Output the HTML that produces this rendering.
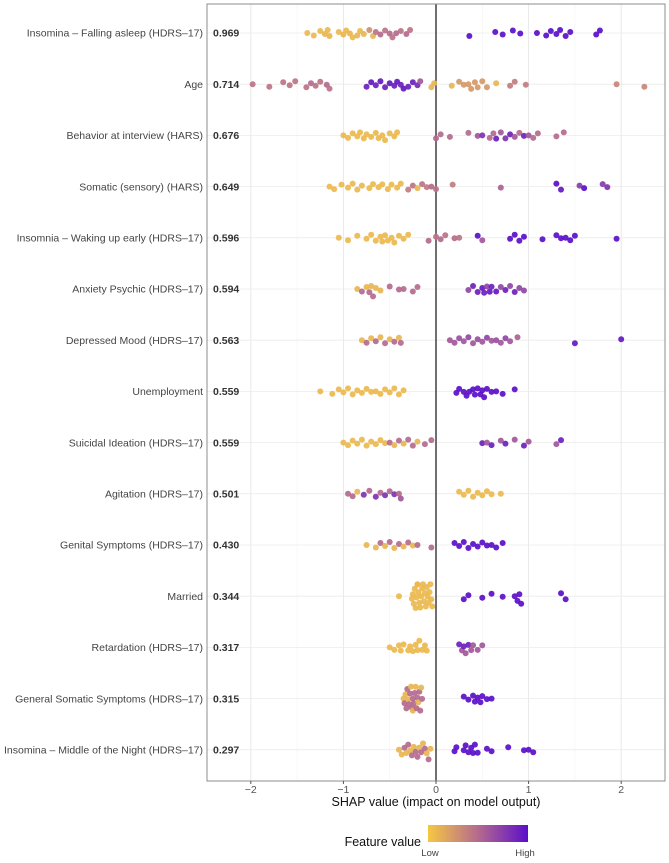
<!DOCTYPE html>
<html><head><meta charset="utf-8"><style>
body{margin:0;background:#fff;font-family:"Liberation Sans",sans-serif}
svg{display:block}
</style></head><body>
<svg id="chart" width="669" height="863"></svg>
<script>
const features=["Insomina – Falling asleep (HDRS–17)","Age","Behavior at interview (HARS)","Somatic (sensory) (HARS)","Insomnia – Waking up early (HDRS–17)","Anxiety Psychic (HDRS–17)","Depressed Mood (HDRS–17)","Unemployment","Suicidal Ideation (HDRS–17)","Agitation (HDRS–17)","Genital Symptoms (HDRS–17)","Married","Retardation (HDRS–17)","General Somatic Symptoms (HDRS–17)","Insomina – Middle of the Night (HDRS–17)"];
const importance=["0.969","0.714","0.676","0.649","0.596","0.594","0.563","0.559","0.559","0.501","0.430","0.344","0.317","0.315","0.297"];
const xTicks=[-2,-1,0,1,2];
const shapValues=[
[-1.39,-1.32,-1.25,-1.2,-1.17,-1.15,-1.05,-1.0,-0.97,-0.93,-0.9,-0.85,-0.82,-0.78,-0.72,-0.68,-0.65,-0.6,-0.55,-0.5,-0.47,-0.43,-0.38,-0.32,-0.28,0.36,0.64,0.72,0.83,0.91,1.09,1.19,1.24,1.3,1.34,1.4,1.45,1.73,1.77],
[-1.98,-1.8,-1.65,-1.58,-1.52,-1.4,-1.35,-1.3,-1.25,-1.18,-1.15,-0.75,-0.7,-0.65,-0.6,-0.55,-0.5,-0.45,-0.42,-0.38,-0.35,-0.3,-0.25,-0.2,-0.17,-0.05,-0.02,0.17,0.25,0.3,0.35,0.38,0.42,0.45,0.5,0.55,0.65,0.8,0.85,0.97,1.95,2.25],
[-1.0,-0.95,-0.9,-0.85,-0.82,-0.78,-0.75,-0.7,-0.65,-0.62,-0.58,-0.55,-0.5,-0.45,-0.42,0.0,0.05,0.15,0.35,0.45,0.5,0.58,0.62,0.65,0.7,0.75,0.8,0.85,0.9,0.95,1.0,1.05,1.1,1.3,1.38],
[-1.15,-1.1,-1.02,-0.95,-0.9,-0.85,-0.8,-0.72,-0.68,-0.62,-0.58,-0.52,-0.48,-0.42,-0.38,-0.3,-0.25,-0.2,-0.15,-0.1,-0.05,0.0,0.18,0.7,1.3,1.35,1.55,1.6,1.8,1.85],
[-1.05,-0.95,-0.85,-0.75,-0.7,-0.65,-0.6,-0.58,-0.55,-0.52,-0.48,-0.45,-0.4,-0.35,-0.3,-0.08,0.0,0.05,0.1,0.2,0.25,0.5,0.45,0.8,0.85,0.9,0.95,1.15,1.3,1.35,1.4,1.45,1.5,1.95],
[-0.85,-0.8,-0.75,-0.72,-0.7,-0.68,-0.65,-0.6,-0.5,-0.4,-0.35,-0.25,-0.2,0.35,0.4,0.45,0.5,0.52,0.55,0.58,0.6,0.65,0.7,0.75,0.8,0.85,0.9,0.95],
[-0.8,-0.75,-0.7,-0.65,-0.6,-0.55,-0.5,-0.45,-0.4,-0.38,0.15,0.2,0.25,0.3,0.35,0.4,0.45,0.5,0.55,0.6,0.65,0.7,0.75,0.8,0.88,1.5,2.0],
[-1.25,-1.12,-1.05,-1.0,-0.95,-0.9,-0.85,-0.8,-0.75,-0.7,-0.65,-0.6,-0.55,-0.5,-0.45,-0.4,-0.35,0.22,0.25,0.3,0.33,0.36,0.4,0.42,0.45,0.48,0.5,0.52,0.55,0.6,0.65,0.72,0.85],
[-1.0,-0.95,-0.9,-0.85,-0.8,-0.75,-0.7,-0.65,-0.6,-0.55,-0.5,-0.45,-0.4,-0.35,-0.3,-0.25,-0.2,-0.12,-0.05,0.5,0.55,0.6,0.7,0.75,0.85,0.95,1.0,1.3,1.35],
[-0.95,-0.9,-0.85,-0.78,-0.72,-0.65,-0.6,-0.55,-0.5,-0.45,-0.4,-0.38,0.25,0.3,0.35,0.4,0.45,0.5,0.55,0.6,0.7],
[-0.75,-0.65,-0.6,-0.55,-0.5,-0.45,-0.4,-0.35,-0.3,-0.25,-0.2,-0.05,0.2,0.25,0.3,0.35,0.4,0.45,0.5,0.55,0.6,0.65,0.72],
[-0.4,-0.26,-0.25,-0.24,-0.23,-0.22,-0.21,-0.2,-0.2,-0.19,-0.18,-0.17,-0.16,-0.15,-0.14,-0.13,-0.12,-0.11,-0.1,-0.09,-0.08,-0.07,-0.06,-0.05,-0.04,0.3,0.35,0.5,0.6,0.72,0.85,0.88,0.9,0.92,1.35,1.4],
[-0.5,-0.45,-0.4,-0.38,-0.35,-0.3,-0.28,-0.25,-0.22,-0.2,-0.18,-0.15,-0.12,-0.1,0.25,0.28,0.3,0.32,0.35,0.38,0.4,0.45,0.5],
[-0.35,-0.34,-0.33,-0.32,-0.31,-0.3,-0.29,-0.28,-0.27,-0.26,-0.25,-0.25,-0.24,-0.23,-0.22,-0.21,-0.2,-0.19,-0.18,-0.17,-0.16,-0.15,0.3,0.35,0.4,0.42,0.45,0.48,0.5,0.55,0.6],
[-0.4,-0.37,-0.34,-0.32,-0.3,-0.28,-0.26,-0.24,-0.22,-0.2,-0.18,-0.16,-0.14,-0.12,-0.1,-0.08,-0.06,0.2,0.22,0.3,0.32,0.35,0.38,0.4,0.42,0.45,0.55,0.6,0.78,0.95,1.0,1.05]
];
const featureValues=[
[.08,.08,.08,.1,.08,.1,.08,.1,.08,.1,.08,.1,.08,.1,.3,.1,.45,.5,.45,.5,.45,.5,.45,.5,.45,1,1,1,1,1,1,1,1,1,1,1,1,1,1],
[.45,.45,.45,.45,.45,.45,.5,.45,.45,.5,.45,.9,.95,.9,.95,.9,.95,.9,.95,.9,.95,.9,.9,.85,.6,.1,.1,.1,.25,.25,.25,.25,.25,.25,.25,.25,.1,.4,.4,.4,.35,.35],
[.08,.08,.08,.08,.08,.08,.08,.08,.08,.08,.08,.08,.08,.08,.08,.5,.5,.5,.5,.6,.8,.5,.5,.9,.6,.8,.9,.6,.5,.9,.6,.5,.5,.5,.5],
[.08,.08,.08,.08,.08,.08,.08,.08,.08,.08,.08,.08,.08,.08,.08,.4,.45,.1,.45,.4,.5,.45,.4,.55,1,.95,.75,1,.75,.8],
[.08,.08,.08,.08,.08,.08,.08,.08,.08,.08,.08,.08,.08,.08,.08,.5,.45,.5,.45,.5,.45,.6,1,1,1,1,1,1,1,1,1,1,1,1],
[.1,.5,.1,.5,.1,.5,.1,.1,.5,.5,.5,.5,.5,.7,.9,.9,.95,.9,.7,.95,.9,.95,.7,.9,.7,.9,.7,.7],
[.1,.5,.1,.5,.1,.5,.1,.5,.1,.5,.6,.6,.65,.6,.7,.6,.65,.6,.7,.6,.65,.6,.7,.6,.55,.95,.95],
[.08,.08,.08,.08,.08,.08,.08,.08,.08,.08,.08,.08,.08,.08,.08,.08,.08,1,1,1,1,1,1,1,1,1,1,1,1,1,1,1,1],
[.08,.08,.08,.08,.08,.08,.08,.08,.08,.08,.5,.1,.5,.1,.5,.5,.1,.5,.5,.9,.6,.9,.6,.9,.6,.9,.6,.6,.9],
[.5,.5,.1,.8,.5,.8,.5,.8,.5,.8,.5,.6,.08,.08,.08,.08,.08,.08,.08,.08,.08],
[.1,.1,.5,.1,.5,.1,.5,.1,.5,.1,.5,.5,1,1,1,1,1,1,1,1,1,1,1],
[.08,.08,.08,.08,.08,.08,.08,.08,.08,.08,.08,.08,.08,.08,.08,.08,.08,.08,.08,.08,.08,.08,.08,.08,.08,1,1,1,1,1,1,1,1,1,1,1],
[.08,.08,.08,.08,.08,.08,.08,.08,.08,.08,.08,.08,.08,.08,.9,.6,.9,.6,.9,.6,.6,.6,.6],
[.1,.5,.1,.5,.5,.1,.5,.5,.1,.5,.5,.1,.5,.5,.1,.5,.5,.1,.5,.5,.1,.5,1,1,1,1,1,1,1,1,1],
[.1,.1,.5,.1,.5,.1,.5,.1,.5,.5,.1,.5,.1,.5,.1,.5,.1,1,1,1,1,1,1,1,1,1,1,1,1,1,1,1]
];
const NS="http://www.w3.org/2000/svg";
const svg=document.getElementById('chart');
const P={l:207,r:665,t:4,b:781};
const x0=436,ux=92.6;
const xScale=v=>x0+v*ux;
const yScale=i=>33+i*51.2;
const jitterPattern=[0,2.5,-2,1,-3,3,-1,1.5,-2.5,0.5];
function mk(tag,attrs,parent){const e=document.createElementNS(NS,tag);for(const k in attrs)e.setAttribute(k,attrs[k]);(parent||svg).appendChild(e);return e;}
function lerp(a,b,t){return Math.round(a+(b-a)*t);}
function color(f){const s=[[245,200,66],[180,106,142],[91,15,201]];let a,b,t;if(f<0.5){a=s[0];b=s[1];t=f/0.5;}else{a=s[1];b=s[2];t=(f-0.5)/0.5;}return `rgb(${lerp(a[0],b[0],t)},${lerp(a[1],b[1],t)},${lerp(a[2],b[2],t)})`;}
const grid=mk('g',{});


for(let v=-2.5;v<=2.5;v+=0.5){const x=xScale(v);if(x<P.l||x>P.r)continue;mk('line',{x1:x,x2:x,y1:P.t,y2:P.b,stroke:Number.isInteger(v)?'#e6e6e6':'#f2f2f2','stroke-width':Number.isInteger(v)?0.9:0.6},grid);}
features.forEach((f,i)=>{mk('line',{x1:P.l,x2:P.r,y1:yScale(i),y2:yScale(i),stroke:'#ebebeb','stroke-width':0.8},grid);});
const zl=mk('line',{x1:xScale(0),x2:xScale(0),y1:P.t,y2:P.b,stroke:'#111','stroke-width':1.2});


const r=3;
features.forEach((f,i)=>{
  const g=mk('g',{});
  
  
  const pts=shapValues[i].map((v,j)=>({x:xScale(v),f:featureValues[i][j],j:j})).sort((a,b)=>a.x-b.x);
  const placed=[];
  pts.forEach(p=>{
    const base=jitterPattern[p.j%jitterPattern.length];
    let off=base;
    for(let k=0;k<20;k++){
      const o=base+(k%2?1:-1)*Math.ceil(k/2)*2.2;
      if(!placed.some(q=>Math.hypot(q.x-p.x,q.o-o)<r*1.45)){off=o;break;}
      off=o;
    }
    off=Math.max(-12,Math.min(12,off));
    placed.push({x:p.x,o:off});
    const c=mk('circle',{cx:p.x,cy:yScale(i)+off,r:r,fill:color(p.f),'fill-opacity':0.92},g);
    
    
  });
  const lab=mk('text',{x:203,y:yScale(i)+3.7,'text-anchor':'end','font-size':10.5,fill:'#444'});
  lab.textContent=f;
  
  
  const val=mk('text',{x:213,y:yScale(i)+3.7,'font-size':10.5,'font-weight':'bold',fill:'#333'});
  val.textContent=importance[i];
  
  
});
const pb=mk('rect',{x:P.l,y:P.t,width:P.r-P.l,height:P.b-P.t,fill:'none',stroke:'#8c8c8c','stroke-width':1});


xTicks.forEach(t=>{
  mk('line',{x1:xScale(t),x2:xScale(t),y1:P.b,y2:P.b+3,stroke:'#555'});
  const tx=mk('text',{x:xScale(t),y:793,'text-anchor':'middle','font-size':10.5,fill:'#555'});
  tx.textContent=t<0?'−'+(-t):String(t);
  
  
});
const xt=mk('text',{x:xScale(0),y:806,'text-anchor':'middle','font-size':12.5,fill:'#111'});
xt.textContent='SHAP value (impact on model output)';


const defs=mk('defs',{});
const lg=mk('linearGradient',{id:'grad',x1:0,x2:1,y1:0,y2:0},defs);
[0,0.25,0.5,0.75,1].forEach(s=>mk('stop',{offset:s,'stop-color':color(s)},lg));
const leg=mk('g',{});


mk('rect',{x:428,y:825,width:100,height:17,fill:'url(#grad)'},leg);
const lt=mk('text',{x:421,y:846,'text-anchor':'end','font-size':12.5,fill:'#111'},leg);lt.textContent='Feature value';


const lo=mk('text',{x:430,y:856,'text-anchor':'middle','font-size':9.5,fill:'#444'},leg);lo.textContent='Low';


const hi=mk('text',{x:525,y:856,'text-anchor':'middle','font-size':9.5,fill:'#444'},leg);hi.textContent='High';


</script>
</body></html>
